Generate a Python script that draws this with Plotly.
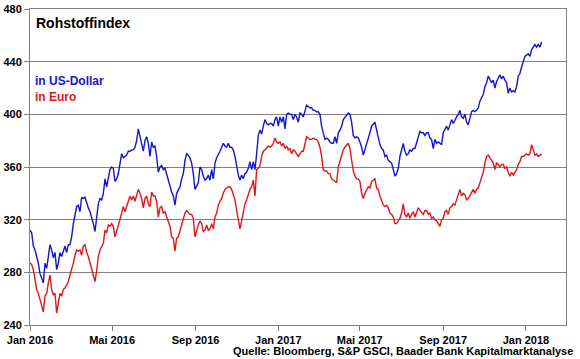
import pandas as pd
import plotly.graph_objects as go

# Rohstoffindex in US-Dollar (~2.5-day spacing)
usd = [
    312,310,300,297,292,287,279,276,272,287,283,292,301,297,291,295,282,287,295,292,
    297,300,295,301,301,307,317,325,330,331,326,337,336,337,332,329,326,322,317,311,
    320,332,336,335,340,351,345,353,358,360,359,349,351,
    355,363,370,367,368,369,372,372,373,373,375,380,389,383,378,372,380,383,378,368,
    379,375,376,368,356,360,361,358,359,354,350,346,341,338,331,340,343,345,351,355,
    365,370,369,367,363,355,343,346,348,360,358,353,350,
    351,354,350,358,351,363,367,369,372,375,378,376,375,378,375,375,373,368,360,354,
    350,354,351,355,356,359,364,358,364,358,370,384,388,385,391,396,393,392,393,393,
    391,396,398,391,398,394,398,389,400,401,400,
    400,396,400,398,394,401,400,398,403,407,406,405,405,403,403,402,402,400,391,386,
    381,382,381,379,378,378,383,378,386,388,391,396,398,400,401,400,394,384,382,383,
    382,379,375,369,373,378,382,386,391,393,394,
    388,382,377,374,373,368,369,365,364,363,358,353,355,359,368,373,378,372,369,370,
    373,372,374,374,379,382,387,386,386,384,386,386,382,381,374,381,378,379,378,377,
    386,388,391,388,393,396,393,396,398,400,403,
    398,397,400,394,392,397,402,403,402,403,405,410,412,415,421,424,429,427,424,426,
    420,425,427,430,427,429,426,424,416,420,417,418,417,421,429,431,436,441,444,445,
    446,444,449,451,453,451,453,451,455,
]

# Rohstoffindex in Euro
eur = [
    287,286,282,275,267,264,259,254,250,262,264,272,278,267,263,264,249,257,264,262,
    267,268,270,273,278,282,287,293,297,296,297,293,300,301,295,292,287,282,276,273,
    281,292,297,300,302,312,310,316,315,317,315,307,311,
    315,320,325,330,326,330,334,338,335,338,334,338,343,340,336,329,336,338,332,330,
    341,338,338,334,322,329,330,325,326,322,319,315,307,306,296,306,307,312,316,320,
    325,327,325,324,324,321,307,312,316,319,317,311,312,
    316,312,313,317,313,322,325,331,334,336,340,343,344,345,345,343,339,335,327,319,
    313,319,326,332,335,339,343,345,350,338,358,359,361,368,372,373,375,376,375,376,
    378,382,379,378,379,376,378,374,376,373,374,
    370,373,372,370,368,370,372,372,377,383,382,381,381,382,381,381,379,375,368,358,
    357,357,355,355,351,350,349,348,360,365,368,373,375,377,378,374,366,357,353,351,
    351,349,340,336,340,343,345,344,349,350,351,
    344,343,338,335,331,330,331,329,325,324,322,317,317,319,321,325,332,324,322,325,
    321,324,326,322,325,329,327,325,324,327,327,324,325,321,322,320,319,317,315,320,
    321,326,327,324,329,330,332,331,335,338,343,
    338,340,339,335,336,338,340,343,340,343,344,348,353,356,363,368,369,367,364,363,
    358,363,362,360,362,362,359,360,356,353,356,354,356,358,362,364,368,368,369,370,
    369,370,377,373,369,370,368,369,370,
]

dates = pd.date_range(start="2016-01-01", end="2018-01-24", periods=len(usd))

tick_dates = ["2016-01-01", "2016-05-01", "2016-09-01", "2017-01-01",
              "2017-05-01", "2017-09-01", "2018-01-01"]
tick_labels = ["Jan 2016", "Mai 2016", "Sep 2016", "Jan 2017",
               "Mai 2017", "Sep 2017", "Jan 2018"]
y_ticks = [240, 280, 320, 360, 400, 440, 480]

BLUE = "#1414D0"
RED = "#E0161B"
FONT = "Liberation Sans"

fig = go.Figure()
fig.add_trace(go.Scatter(x=dates, y=usd, mode="lines", name="in US-Dollar",
                         line=dict(color=BLUE, width=1.4)))
fig.add_trace(go.Scatter(x=dates, y=eur, mode="lines", name="in Euro",
                         line=dict(color=RED, width=1.4)))

fig.update_layout(
    width=580, height=359,
    margin=dict(l=30, r=14, t=9, b=34),
    paper_bgcolor="white", plot_bgcolor="white",
    showlegend=False,
    font=dict(family=FONT, color="black"),
    xaxis=dict(
        type="date", range=["2016-01-01", "2018-03-01"],
        tickvals=tick_dates, ticktext=tick_labels, automargin=False,
        tickfont=dict(family=FONT, size=11, weight="bold", color="black"),
        ticks="outside", ticklen=5, tickcolor="#808080",
        showline=True, linecolor="#808080", linewidth=1, mirror=True,
        showgrid=False, zeroline=False,
    ),
    yaxis=dict(
        range=[240, 480], tickvals=y_ticks, automargin=False,
        tickfont=dict(family=FONT, size=11, weight="bold", color="black"),
        ticks="outside", ticklen=5, tickcolor="#808080",
        showline=True, linecolor="#808080", linewidth=1, mirror=True,
        showgrid=True, gridcolor="#808080", gridwidth=1, zeroline=False,
    ),
    annotations=[
        dict(text="Rohstoffindex", xref="paper", yref="paper", x=0.008, y=0.957,
             xanchor="left", yanchor="middle", showarrow=False,
             font=dict(family=FONT, size=14, weight="bold", color="black")),
        dict(text="in US-Dollar", xref="paper", yref="paper", x=0.006, y=0.772,
             xanchor="left", yanchor="middle", showarrow=False,
             font=dict(family=FONT, size=12, weight="bold", color=BLUE)),
        dict(text="in Euro", xref="paper", yref="paper", x=0.006, y=0.722,
             xanchor="left", yanchor="middle", showarrow=False,
             font=dict(family=FONT, size=12, weight="bold", color=RED)),
        dict(text="Quelle: Bloomberg, S&P GSCI, Baader Bank Kapitalmarktanalyse",
             xref="paper", yref="paper", x=1.017, y=-0.082,
             xanchor="right", yanchor="middle", showarrow=False,
             font=dict(family=FONT, size=11, weight="bold", color="black")),
    ],
)

fig.write_html(
    "out.html",
    config={"displayModeBar": False},
    post_script="document.body.style.margin='0';document.body.style.overflow='hidden';",
)
